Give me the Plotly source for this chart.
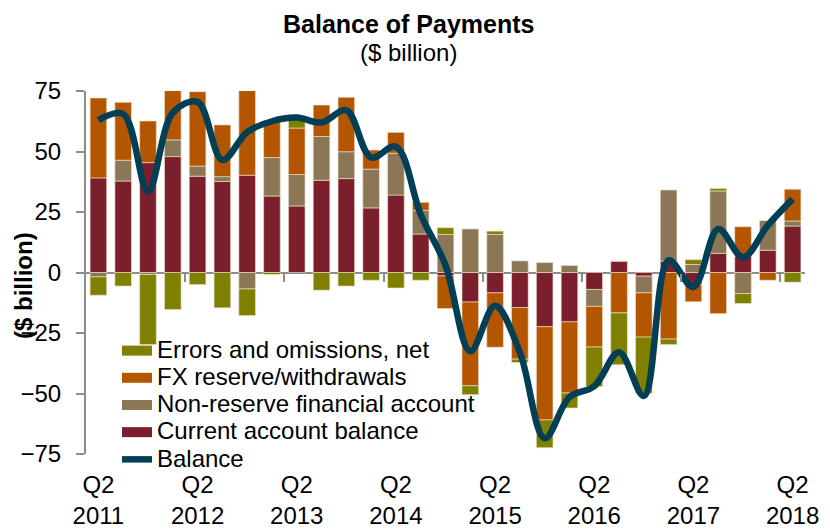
import plotly.graph_objects as go

quarters = [
    "Q2 2011", "Q3 2011", "Q4 2011", "Q1 2012",
    "Q2 2012", "Q3 2012", "Q4 2012", "Q1 2013",
    "Q2 2013", "Q3 2013", "Q4 2013", "Q1 2014",
    "Q2 2014", "Q3 2014", "Q4 2014", "Q1 2015",
    "Q2 2015", "Q3 2015", "Q4 2015", "Q1 2016",
    "Q2 2016", "Q3 2016", "Q4 2016", "Q1 2017",
    "Q2 2017", "Q3 2017", "Q4 2017", "Q1 2018",
    "Q2 2018",
]
tick_quarters = ["Q2 2011", "Q2 2012", "Q2 2013", "Q2 2014",
                 "Q2 2015", "Q2 2016", "Q2 2017", "Q2 2018"]
tick_labels = ["Q2<br>2011", "Q2<br>2012", "Q2<br>2013", "Q2<br>2014",
               "Q2<br>2015", "Q2<br>2016", "Q2<br>2017", "Q2<br>2018"]
year_boundaries = [3.5, 7.5, 11.5, 15.5, 19.5, 23.5, 27.5]
y_ticks = [-75, -50, -25, 0, 25, 50, 75]

current_account = [39.1, 37.8, 45.4, 47.9, 39.8, 37.6, 40.2, 31.6,
                   27.5, 38.1, 38.8, 26.7, 32.0, 15.9, -1.4, -12.2,
                   -8.4, -14.5, -22.4, -20.4, -7.0, 4.7, -1.5, 4.7,
                   -5.0, 7.9, 6.8, 9.2, 19.2]
non_reserve = [-1.8, 8.6, -0.8, 6.9, 4.2, 2.0, -6.8, 15.9,
               13.0, 18.1, 11.1, 16.0, 17.3, 9.8, 15.7, 18.0,
               15.7, 4.8, 4.1, 2.9, -7.0, 0.0, -6.9, 29.4,
               3.3, 25.8, -8.7, 12.3, 2.1]
fx_reserve = [33.0, 23.9, 17.2, 21.0, 30.7, 21.4, 35.6, 15.3,
              19.2, 13.0, 22.5, 7.9, 8.6, 3.3, -13.5, -34.6,
              -22.5, -21.3, -38.5, -29.4, -16.8, -16.7, -18.3, -27.5,
              -7.1, -17.0, 12.1, -3.2, 13.1]
errors = [-7.6, -5.6, -29.0, -15.3, -5.0, -14.6, -11.0, -0.8,
          3.7, -7.3, -5.6, -3.2, -6.4, -3.2, 2.8, -3.7,
          1.4, -1.4, -11.5, -6.2, -16.3, -21.4, -23.2, -2.3,
          2.0, 1.0, -4.1, 0.0, -4.0]
balance = [63.0, 65.5, 33.5, 66.0, 70.5, 46.5, 58.0, 62.5,
           64.0, 62.0, 67.0, 47.5, 52.0, 24.0, 3.0, -32.5,
           -13.7, -33.0, -68.5, -51.5, -47.0, -33.0, -51.0, 5.0,
           -6.0, 18.0, 6.3, 19.5, 30.3]

C_CA = "#7a1f2b"
C_NR = "#8b7755"
C_FX = "#b45500"
C_ERR = "#7f7f00"
C_BAL = "#003f55"
AXIS = "#8c8c8c"
FONT = "Liberation Sans, Arial, sans-serif"

fig = go.Figure()

bar_line = dict(color="rgba(235,225,205,0.8)", width=0.8)
for name, vals, col in [
    ("Current account balance", current_account, C_CA),
    ("Non-reserve financial account", non_reserve, C_NR),
    ("FX reserve/withdrawals", fx_reserve, C_FX),
    ("Errors and omissions, net", errors, C_ERR),
]:
    fig.add_trace(go.Bar(x=quarters, y=vals, name=name, marker=dict(color=col, line=bar_line),
                         width=0.67, showlegend=False, hoverinfo="x+y+name"))

# legend entries
for rank, (name, col) in enumerate([
    ("Errors and omissions, net", C_ERR),
    ("FX reserve/withdrawals", C_FX),
    ("Non-reserve financial account", C_NR),
    ("Current account balance", C_CA),
]):
    fig.add_trace(go.Scatter(x=[None], y=[None], mode="lines",
                             line=dict(color=col, width=15),
                             name='<span style="font-size:24px">' + name + '</span>',
                             legendrank=rank + 1, hoverinfo="skip"))

fig.add_trace(go.Scatter(x=quarters, y=balance, mode="lines",
                         line=dict(color=C_BAL, width=6.5, shape="spline", smoothing=1.0),
                         name='<span style="font-size:24px">Balance</span>', legendrank=5))

# invisible helper trace for the tick-mark axis on the zero line
fig.add_trace(go.Scatter(x=[0], y=[0], xaxis="x2", mode="markers",
                         marker=dict(opacity=0), showlegend=False, hoverinfo="skip"))

fig.update_layout(
    width=830, height=530,
    margin=dict(l=86, r=25, t=91, b=76, autoexpand=False),
    paper_bgcolor="white", plot_bgcolor="white",
    barmode="relative",
    bargap=0.33,
    font=dict(family=FONT, color="black", size=24),
    showlegend=True,
    legend=dict(x=0.0431, y=0.336, xanchor="left", yanchor="top",
                bgcolor="rgba(0,0,0,0)", font=dict(size=18.6, family=FONT),
                traceorder="normal", itemclick=False, itemdoubleclick=False),
    xaxis=dict(type="category", range=[-0.5, 28.5], tickmode="array",
               tickvals=tick_quarters, ticktext=tick_labels,
               showline=False, showgrid=False, zeroline=False, ticks="",
               ticklabelstandoff=14, automargin=False,
               tickfont=dict(size=24, family=FONT)),
    xaxis2=dict(overlaying="x", anchor="free", position=0.5, type="linear",
                range=[-0.5, 28.5], tickmode="array", tickvals=year_boundaries,
                ticks="outside", ticklen=8, tickwidth=2, tickcolor=AXIS,
                showticklabels=False, showline=False, showgrid=False, zeroline=False,
                side="bottom"),
    yaxis=dict(range=[-75, 75], tickmode="array", tickvals=y_ticks,
               showgrid=False, zeroline=True, zerolinecolor=AXIS, zerolinewidth=2,
               showline=True, linecolor=AXIS, linewidth=2,
               ticks="outside", ticklen=8, tickwidth=2, tickcolor=AXIS,
               ticklabelstandoff=10, automargin=False,
               tickfont=dict(size=24, family=FONT)),
    annotations=[
        dict(text="<b>Balance of Payments</b>", xref="paper", yref="paper",
             x=0.4492, y=1.1846, xanchor="center", yanchor="middle", showarrow=False,
             font=dict(size=25, family=FONT)),
        dict(text="($ billion)", xref="paper", yref="paper",
             x=0.4492, y=1.1047, xanchor="center", yanchor="middle", showarrow=False,
             font=dict(size=24, family=FONT)),
        dict(text="<b>($ billion)</b>", xref="paper", yref="paper",
             x=-0.0876, y=0.4628, xanchor="center", yanchor="middle", showarrow=False,
             textangle=-90, font=dict(size=24, family=FONT)),
    ],
)

fig.write_html("out.html", config={"displayModeBar": False},
               post_script="document.body.style.margin='0';document.body.style.padding='0';")
